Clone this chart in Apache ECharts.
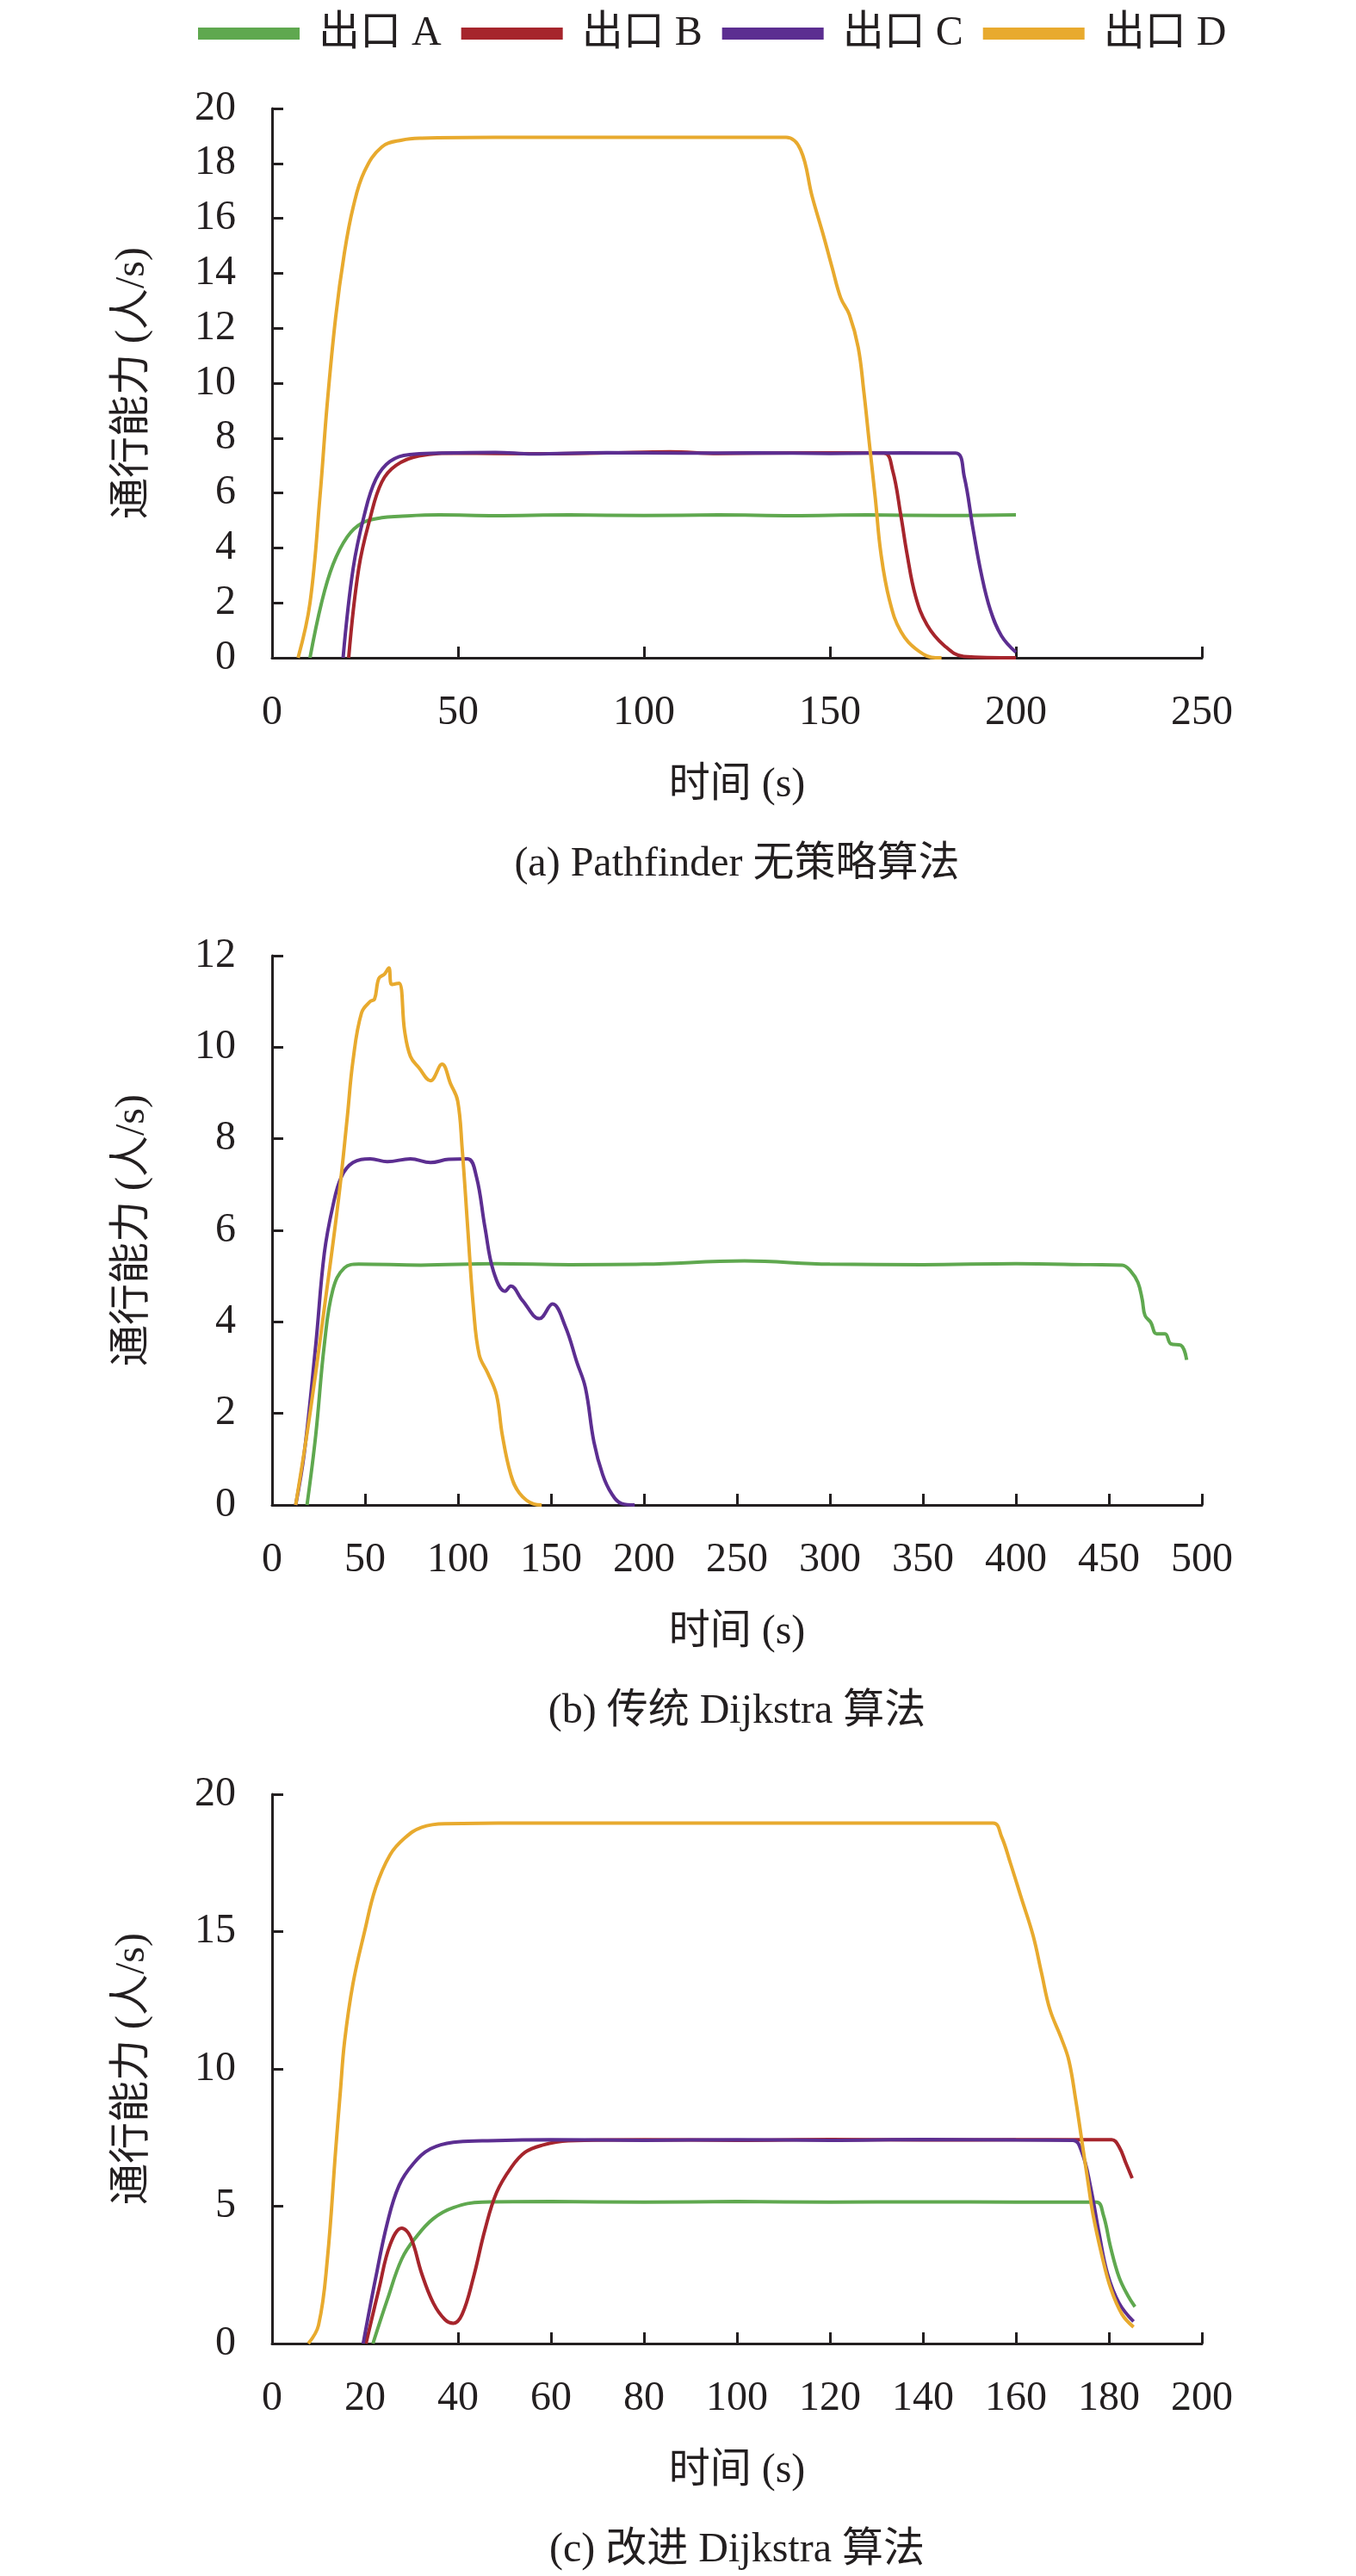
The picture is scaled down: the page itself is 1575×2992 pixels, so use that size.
<!DOCTYPE html>
<html lang="zh">
<head>
  <meta charset="utf-8">
  <title>出口通行能力</title>
  <script src="https://cdn.jsdelivr.net/npm/echarts/dist/echarts.min.js"></script>
  <style>
    body { margin: 0; background: #fff; }
    #chart { width: 1575px; height: 2992px; }
  </style>
</head>
<body>
<div id="chart"></div>
<script>
  // series names, shared by the three panels
  const names = ['出口 A', '出口 B', '出口 C', '出口 D'];
  const colors = ['#5fa84f', '#a6252c', '#5c2e91', '#e8aa2e'];

  // (a) Pathfinder - [time s, capacity persons/s]
  const aA = [[10.2,0],[13.3,2],[16.4,3.4],[20.2,4.4],[24.1,4.9],[29.5,5.1],[34.1,5.15],[45,5.2],[60,5.17],[80,5.2],[100,5.18],[120,5.2],[140,5.17],[160,5.2],[180,5.18],[200,5.2]];
  const aB = [[20.6,0],[23.3,3.25],[26.4,5.1],[29.5,6.4],[33.3,7.0],[39.5,7.35],[50,7.45],[70,7.43],[90,7.46],[107,7.5],[120,7.44],[140,7.46],[164.5,7.45],[166.8,6.85],[169.1,5.15],[170.7,3.8],[173,2.25],[176.1,1.2],[180.7,0.45],[186,0.05],[200,0]];
  const aC = [[19.1,0],[21.8,3.25],[24.8,5.2],[27.9,6.5],[31.7,7.15],[37,7.4],[45,7.45],[60,7.48],[70,7.42],[90,7.47],[110,7.45],[130,7.46],[150,7.44],[170,7.46],[183.8,7.45],[186.1,6.6],[188.4,4.75],[190.7,3.05],[193.1,1.75],[196.1,0.8],[200,0.2]];
  const aD = [[7,0],[10.2,2],[12.9,5.9],[14.8,9.2],[17.1,12.4],[19.4,14.7],[21.8,16.4],[24.8,17.7],[29.5,18.6],[34.9,18.85],[40.3,18.92],[60,18.95],[90,18.95],[120,18.95],[138.2,18.95],[142.1,18.5],[145.2,16.8],[148.3,15.35],[150.6,14.2],[152.9,13.1],[155.2,12.5],[157.6,11.3],[159.1,9.7],[160.6,7.8],[162.2,5.8],[163.7,3.8],[166,2.1],[169.1,0.95],[173.8,0.25],[178.4,0],[180,0]];

  // (b) 传统 Dijkstra
  const bA = [[18.8,0],[23.5,1.53],[28.1,3.5],[32.7,4.7],[38.9,5.18],[46.6,5.26],[80,5.24],[120,5.27],[160,5.25],[200,5.26],[254,5.33],[300,5.26],[350,5.25],[400,5.27],[440,5.25],[457.1,5.24],[461.7,5.11],[465.6,4.86],[467.9,4.49],[469.4,4.14],[472.5,3.99],[475.6,3.74],[480.2,3.74],[483.3,3.52],[488.7,3.49],[491.8,3.17]];
  const bC = [[12.7,0],[17.3,1.13],[23.5,3.5],[28.1,5.5],[32.7,6.53],[37.3,7.17],[43.5,7.48],[52.8,7.56],[62,7.5],[74.4,7.56],[85.2,7.48],[95,7.55],[105.2,7.56],[109.9,7.17],[114.5,6.06],[119.1,5.1],[125.3,4.67],[128.4,4.78],[134.6,4.47],[143.8,4.07],[150.8,4.39],[157.7,3.9],[163.9,3.12],[168.5,2.56],[173.1,1.37],[177.8,0.66],[182.4,0.26],[188,0.03],[195,0]];
  const bD = [[12.7,0],[20.4,2],[28.1,4.3],[35.8,6.7],[40.4,8.45],[43.5,9.7],[48.1,10.75],[52.8,11.0],[55.1,11.05],[57.4,11.5],[60.5,11.6],[62.8,11.73],[64.4,11.37],[68.2,11.4],[71.3,10.35],[74.4,9.8],[79,9.55],[85.2,9.27],[91.4,9.63],[96,9.2],[99.8,8.83],[102.2,7.8],[105.2,6.06],[108.3,4.3],[111.4,3.28],[116,2.88],[120.7,2.4],[123.8,1.53],[128.4,0.66],[133,0.26],[140.7,0.02],[145,0]];

  // (c) 改进 Dijkstra
  const cA = [[21.7,0],[24.8,1.6],[27.9,3.08],[31,3.88],[34.7,4.55],[39,4.95],[45.2,5.15],[60,5.17],[80,5.15],[100,5.17],[120,5.15],[140,5.16],[160,5.15],[177.3,5.15],[178.8,4.68],[180.4,3.48],[182.2,2.41],[184.1,1.74],[185.6,1.34]];
  const cB = [[20.2,0],[23,2],[25.4,3.6],[27.9,4.2],[29.8,3.88],[32.2,2.54],[34.7,1.47],[37.2,0.87],[39,0.74],[40.9,1.07],[43.3,2.4],[45.8,4.15],[48.3,5.5],[51.4,6.4],[54.4,6.96],[58.1,7.22],[63.7,7.38],[80,7.42],[100,7.4],[120,7.43],[140,7.41],[160,7.42],[180.6,7.42],[182.2,7.16],[183.7,6.55],[185,6.02]];
  const cC = [[19.6,0],[22.3,2.4],[24.8,4.4],[27.3,5.75],[30.4,6.55],[34.1,7.09],[39,7.33],[45.2,7.38],[60,7.42],[80,7.4],[100,7.42],[120,7.4],[140,7.43],[160,7.41],[172.3,7.4],[174.2,6.96],[176,5.75],[177.9,4.0],[179.7,2.54],[182.2,1.47],[185.3,0.8]];
  const cD = [[7.8,0],[10,0.67],[11.9,3.08],[13.7,7.09],[14.7,9.2],[15.6,11.0],[17.4,13.1],[19.9,15.0],[22.3,16.6],[25.4,17.8],[28.5,18.4],[32.2,18.8],[37.2,18.93],[60,18.95],[100,18.95],[155.1,18.95],[156.9,18.46],[158.8,17.5],[161.2,16.2],[163.7,14.85],[165.5,13.5],[167.3,12.17],[169.8,11.1],[171.4,10.3],[172.9,8.83],[174.2,7.36],[175.4,6.0],[176.6,4.68],[178.5,3.2],[180.4,2.0],[182.8,1.07],[185.3,0.6]];

  // axis ranges per panel
  const xMax = [250, 500, 200], xStep = [50, 50, 20];
  const yMax = [20, 12, 20], yStep = [2, 2, 5];
  const captions = ['(a) Pathfinder 无策略算法', '(b) 传统 Dijkstra 算法', '(c) 改进 Dijkstra 算法'];

  const panels = [
    [aA, aB, aC, aD],
    [bA, null, bC, bD],
    [cA, cB, cC, cD]
  ];

  const font = '"Liberation Serif", "Times New Roman", "Noto Sans CJK SC", serif';
  const ink = '#231f20';
  const tops = [126, 1110, 2084];
  const plotH = 638;
  const plotL = 316, plotR = 1396;

  const chart = echarts.init(document.getElementById('chart'));

  const grid = [], xAxis = [], yAxis = [], series = [], graphic = [];
  const axisLine = { show: true, lineStyle: { color: ink, width: 3 } };
  const axisTick = { show: true, inside: true, length: 13, lineStyle: { color: ink, width: 3 } };

  panels.forEach(function (set, i) {
    grid.push({ left: plotL, width: plotR - plotL, top: tops[i], height: plotH });
    xAxis.push({
      type: 'value', gridIndex: i, min: 0, max: xMax[i], interval: xStep[i],
      name: '时间 (s)', nameLocation: 'middle', nameGap: 124,
      nameTextStyle: { fontFamily: font, fontSize: 48, color: ink },
      axisLine: axisLine, axisTick: axisTick, splitLine: { show: false },
      axisLabel: { margin: 40, fontFamily: font, fontSize: 48, color: ink }
    });
    yAxis.push({
      type: 'value', gridIndex: i, min: 0, max: yMax[i], interval: yStep[i],
      name: '通行能力 (人/s)', nameLocation: 'middle', nameGap: 138,
      nameTextStyle: { fontFamily: font, fontSize: 48, color: ink },
      axisLine: axisLine, axisTick: axisTick, splitLine: { show: false },
      axisLabel: { margin: 42, fontFamily: font, fontSize: 48, color: ink }
    });
    set.forEach(function (data, k) {
      if (!data) return;
      series.push({
        name: names[k], type: 'line', xAxisIndex: i, yAxisIndex: i,
        data: data, showSymbol: false, symbol: 'none', smooth: 0.4,
        lineStyle: { width: 4, color: colors[k] }, itemStyle: { color: colors[k] },
        z: 2 + k, animation: false
      });
    });
    graphic.push({
      type: 'text', x: (plotL + plotR) / 2, y: tops[i] + plotH + 240,
      style: {
        text: captions[i], fontFamily: font, fontSize: 48, fill: ink,
        align: 'center', verticalAlign: 'middle', textAlign: 'center', textVerticalAlign: 'middle'
      }
    });
  });

  chart.setOption({
    animation: false,
    legend: {
      left: 225, top: 10, icon: 'rect', itemWidth: 118, itemHeight: 14, itemGap: 23,
      data: names,
      textStyle: { fontFamily: font, fontSize: 48, color: ink, padding: [0, 0, 0, 17] }
    },
    grid: grid,
    xAxis: xAxis,
    yAxis: yAxis,
    series: series,
    graphic: graphic
  });
</script>
</body>
</html>
